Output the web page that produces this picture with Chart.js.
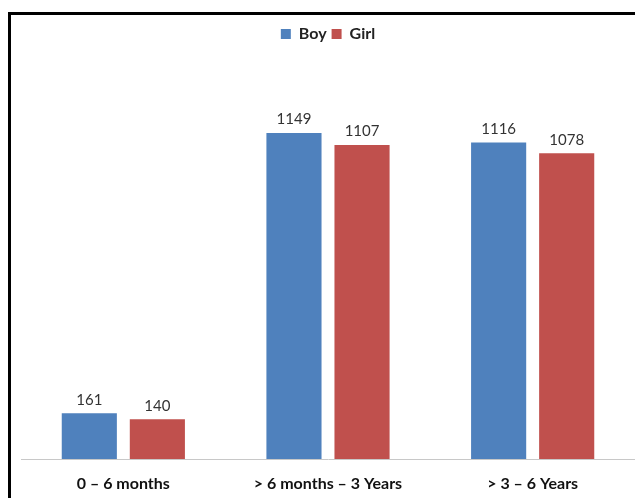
<!DOCTYPE html>
<html>
<head>
<meta charset="utf-8">
<script src="https://cdn.jsdelivr.net/npm/chart.js@4"></script>
<style>
  html, body { margin: 0; padding: 0; background: #fff; }
  #wrap { position: relative; width: 635px; height: 498px; }
  #frame {
    position: absolute; left: 8px; top: 12px; right: 0; bottom: 0;
    border-top: 3px solid #000; border-left: 3px solid #000;
    pointer-events: none;
  }
</style>
</head>
<body>
<div id="wrap">
  <canvas id="ageCanvas" width="635" height="498"></canvas>
  <div id="frame"></div>
</div>
<script>
var ageGroups = ["0 \u2013 6 months", "> 6 months \u2013 3 Years", "> 3 \u2013 6 Years"];
var boyCounts = [161, 1149, 1116];
var girlCounts = [140, 1107, 1078];

// numbers above each bar
var barLabels = {
  id: 'barLabels',
  afterDatasetsDraw: function (chart) {
    var ctx = chart.ctx;
    ctx.save();
    ctx.font = '15px Lato';
    ctx.fillStyle = '#333';
    ctx.textAlign = 'center';
    ctx.textBaseline = 'bottom';
    chart.data.datasets.forEach(function (ds, i) {
      chart.getDatasetMeta(i).data.forEach(function (bar, j) {
        ctx.fillText(ds.data[j], bar.x, bar.y - 6);
      });
    });
    ctx.restore();
  }
};

var config = {
  type: 'bar',
  data: {
    labels: ageGroups,
    datasets: [
      { label: 'Boy', data: boyCounts, backgroundColor: '#4F81BD' },
      { label: 'Girl', data: girlCounts, backgroundColor: '#C0504D' }
    ]
  },
  options: {
    responsive: false,
    animation: false,
    categoryPercentage: 0.665,
    barPercentage: 0.81,
    layout: { padding: { left: 21, right: 0, top: 21, bottom: 0 } },
    plugins: {
      legend: {
        display: true,
        position: 'top',
        labels: {
          boxWidth: 10,
          boxHeight: 10,
          padding: 5,
          color: '#222',
          font: { family: 'Lato', size: 16, weight: 'bold' }
        }
      },
      tooltip: { enabled: false }
    },
    scales: {
      x: {
        grid: { display: false },
        border: { display: true, color: '#c8c8c8', width: 1 },
        afterFit: function (scale) { scale.height = 39; },
        ticks: {
          color: '#111',
          padding: 7,
          maxRotation: 0,
          font: { family: 'Lato', size: 16, weight: 'bold' }
        }
      },
      y: {
        display: false,
        min: 0,
        max: 1435
      }
    }
  },
  plugins: [barLabels]
};

var ctx = document.getElementById('ageCanvas');
var ageChart = new Chart(ctx, config);
</script>
</body>
</html>
